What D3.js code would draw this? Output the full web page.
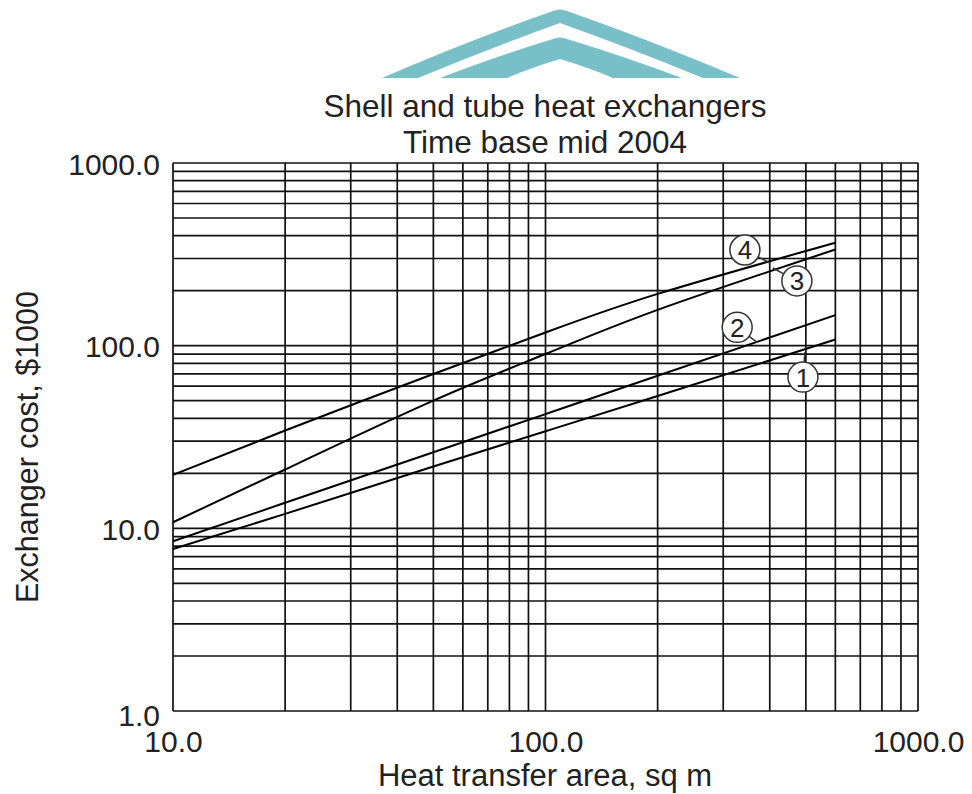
<!DOCTYPE html>
<html>
<head>
<meta charset="utf-8">
<script src="https://cdn.jsdelivr.net/npm/d3@7"></script>
<style>
  body { margin: 0; background: #fff; }
  svg { display: block; font-family: "Liberation Sans", Arial, sans-serif; }
</style>
</head>
<body>
<script>
// data (x = area sq m, y = cost $1000)
let areas = [10, 20, 50, 100, 200, 600]
let curve1 = [7.7, 12, 21.8, 34, 53, 108]
let curve2 = [8.5, 13.8, 26.1, 42.2, 68.4, 147]
let curve3 = [10.8, 21, 50, 90, 157, 336]
let curve4 = [19.6, 34.3, 70, 118, 192, 366]
let curveNames = ['1', '2', '3', '4']
// circled number positions (data units)
let labelX = [491, 327, 473, 343]
let labelY = [67.3, 126, 226, 334]

let xTicks = [10, 100, 1000]
let yTicks = [1, 10, 100, 1000]
let xTickLabels = ['10.0', '100.0', '1000.0']
let yTickLabels = ['1.0', '10.0', '100.0', '1000.0']

let width = 972
let height = 794
let padLeft = 173, padRight = 918, padTop = 163, padBottom = 711

let svg = d3.select('body').append('svg')
    .attr('width', width)
    .attr('height', height)

// teal chevron at the top
let teal = '#79bfc8'
svg.append('path')
    .attr('fill', teal)
    .attr('d', 'M382,78 Q470,40 553,11 Q560,8 567,11 Q650,40 740,78 L703,78 Q630,48 560,23 Q490,48 418,78 Z')
svg.append('path')
    .attr('fill', teal)
    .attr('d', 'M440,78 Q500,55 553,39 Q560,36 567,39 Q620,55 682,78 L613,78 Q590,68 560,59 Q530,68 507,78 Z')

// titles
svg.append('text')
    .attr('x', 545).attr('y', 116.5)
    .attr('text-anchor', 'middle')
    .attr('font-size', 31.5)
    .attr('fill', '#222')
    .text('Shell and tube heat exchangers')
svg.append('text')
    .attr('x', 545).attr('y', 152.5)
    .attr('text-anchor', 'middle')
    .attr('font-size', 31.5)
    .attr('fill', '#222')
    .text('Time base mid 2004')

let xScale = d3.scaleLog().domain([10, 1000]).range([padLeft, padRight])
let yScale = d3.scaleLog().domain([1, 1000]).range([padBottom, padTop])

// log grid: 1..9 per decade
let xGrid = []
for (let d of [10, 100]) for (let k = 1; k <= 9; k++) xGrid.push(d * k)
xGrid.push(1000)
let yGrid = []
for (let d of [1, 10, 100]) for (let k = 1; k <= 9; k++) yGrid.push(d * k)
yGrid.push(1000)

let grid = svg.append('g')
    .attr('stroke', '#111')
    .attr('stroke-width', 1.7)

grid.selectAll('.vline')
    .data(xGrid)
    .enter()
    .append('line')
    .attr('class', 'vline')
    .attr('x1', d => xScale(d)).attr('x2', d => xScale(d))
    .attr('y1', padTop).attr('y2', padBottom)

grid.selectAll('.hline')
    .data(yGrid)
    .enter()
    .append('line')
    .attr('class', 'hline')
    .attr('y1', d => yScale(d)).attr('y2', d => yScale(d))
    .attr('x1', padLeft).attr('x2', padRight)

// tick labels
let xAxis = d3.axisBottom(xScale)
    .tickValues(xTicks)
    .tickSize(0)
    .tickPadding(0)
    .tickFormat((d, i) => xTickLabels[i])
let gx = svg.append('g')
    .attr('transform', 'translate(0,' + padBottom + ')')
    .call(xAxis)
gx.select('.domain').remove()
gx.selectAll('text')
    .attr('font-size', 30)
    .attr('font-family', '"Liberation Sans", Arial, sans-serif')
    .attr('fill', '#222')
    .attr('dy', null)
    .attr('y', 41)

let yAxis = d3.axisLeft(yScale)
    .tickValues(yTicks)
    .tickSize(0)
    .tickPadding(13)
    .tickFormat((d, i) => yTickLabels[i])
let gy = svg.append('g')
    .attr('transform', 'translate(' + padLeft + ',0)')
    .call(yAxis)
gy.select('.domain').remove()
gy.selectAll('text')
    .attr('font-size', 30)
    .attr('font-family', '"Liberation Sans", Arial, sans-serif')
    .attr('fill', '#222')
    .attr('dy', null)
    .attr('y', d => d == 1 ? 14 : 11)

// axis titles
svg.append('text')
    .attr('x', 545).attr('y', 786)
    .attr('text-anchor', 'middle')
    .attr('font-size', 31)
    .attr('fill', '#222')
    .text('Heat transfer area, sq m')
svg.append('text')
    .attr('transform', 'translate(38,447) rotate(-90)')
    .attr('text-anchor', 'middle')
    .attr('font-size', 30.5)
    .attr('fill', '#222')
    .text('Exchanger cost, $1000')

// cost curves
let series = [curve1, curve2, curve3, curve4]
let line = d3.line()
    .x((d, i) => xScale(areas[i]))
    .y(d => yScale(d))
    .curve(d3.curveNatural)

svg.append('g')
    .selectAll('path')
    .data(series)
    .enter()
    .append('path')
    .attr('fill', 'none')
    .attr('stroke', '#000')
    .attr('stroke-width', 2)
    .attr('d', d => line(d))

// circled curve numbers with short leaders to their curves
let leaders = [[2, -25], [20, 15], [-24, -13], [25, 13]]
let r = 15
let labels = svg.append('g')
    .selectAll('g')
    .data(curveNames)
    .enter()
    .append('g')
    .attr('transform', (d, i) => 'translate(' + xScale(labelX[i]) + ',' + yScale(labelY[i]) + ')')
labels.append('line')
    .attr('x1', (d, i) => leaders[i][0] * r / Math.hypot(...leaders[i]))
    .attr('y1', (d, i) => leaders[i][1] * r / Math.hypot(...leaders[i]))
    .attr('x2', (d, i) => leaders[i][0])
    .attr('y2', (d, i) => leaders[i][1])
    .attr('stroke', '#333')
    .attr('stroke-width', 1.5)
labels.append('circle')
    .attr('r', r)
    .attr('fill', '#fff')
    .attr('stroke', '#333')
    .attr('stroke-width', 1.5)
labels.append('text')
    .attr('text-anchor', 'middle')
    .attr('y', 9.5)
    .attr('font-size', 26)
    .attr('fill', '#222')
    .text(d => d)
</script>
</body>
</html>
